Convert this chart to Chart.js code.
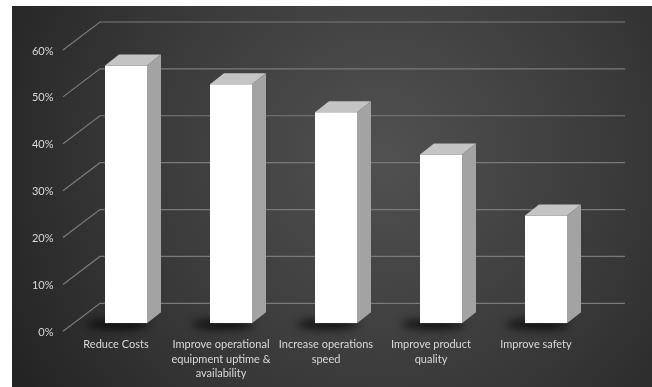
<!DOCTYPE html>
<html>
<head>
  <meta charset="UTF-8">
  <title>Goals</title>
  <script src="https://cdn.jsdelivr.net/npm/chart.js@4.4.0/dist/chart.umd.min.js"></script>
  <style>
    body { margin: 0; background: #fff; }
    .wrap { position: absolute; left: 12px; top: 6px; width: 640px; height: 381px; }
  </style>
</head>
<body>
  <div class="wrap"><canvas id="myChart"></canvas></div>

  <script>
    var categories = [
      ["Reduce Costs"],
      ["Improve operational", "equipment uptime &", "availability"],
      ["Increase operations", "speed"],
      ["Improve product", "quality"],
      ["Improve safety"]
    ];
    var values = [55, 51, 45, 36, 23];
    var yTicks = [0, 10, 20, 30, 40, 50, 60];

    // oblique 3d offsets, relative to the plane of the bar fronts
    var backDx = 26.5, backDy = -20;
    var frontDx = -10.5, frontDy = 8;
    var depthDx = 14, depthDy = -11;

    var bg = {
      id: "bg",
      beforeDraw(chart) {
        var ctx = chart.ctx;
        var g = ctx.createRadialGradient(370, 150, 10, 370, 150, 440);
        g.addColorStop(0, "#505050");
        g.addColorStop(0.55, "#393939");
        g.addColorStop(1, "#222222");
        ctx.save();
        ctx.fillStyle = g;
        ctx.fillRect(0, 0, chart.width, chart.height);
        ctx.restore();
      },
      beforeDatasetsDraw(chart) {
        var ctx = chart.ctx, a = chart.chartArea, y = chart.scales.y;
        ctx.save();
        ctx.strokeStyle = "#7a7a7a";
        ctx.lineWidth = 1.2;
        yTicks.forEach(function (v) {
          var py = y.getPixelForValue(v);
          ctx.beginPath();
          ctx.moveTo(a.left + frontDx, py + frontDy);
          ctx.lineTo(a.left + backDx, py + backDy);
          ctx.lineTo(a.right + backDx, py + backDy);
          ctx.stroke();
        });
        // bar shadows
        ctx.filter = "blur(4px)";
        ctx.fillStyle = "rgba(0,0,0,0.75)";
        chart.getDatasetMeta(0).data.forEach(function (b) {
          ctx.beginPath();
          ctx.ellipse(b.x - 8, b.base + 1, b.width * 0.75, 5, 0, 0, Math.PI * 2);
          ctx.fill();
        });
        ctx.restore();
      },
      afterDatasetsDraw(chart) {
        var ctx = chart.ctx;
        ctx.save();
        chart.getDatasetMeta(0).data.forEach(function (b) {
          var l = b.x - b.width / 2, r = b.x + b.width / 2, t = b.y, bt = b.base;
          // top face
          ctx.fillStyle = "#c4c4c4";
          ctx.beginPath();
          ctx.moveTo(l, t);
          ctx.lineTo(l + depthDx, t + depthDy);
          ctx.lineTo(r + depthDx, t + depthDy);
          ctx.lineTo(r, t);
          ctx.closePath();
          ctx.fill();
          // side face
          ctx.fillStyle = "#a3a3a3";
          ctx.beginPath();
          ctx.moveTo(r, t);
          ctx.lineTo(r + depthDx, t + depthDy);
          ctx.lineTo(r + depthDx, bt + depthDy);
          ctx.lineTo(r, bt);
          ctx.closePath();
          ctx.fill();
        });
        ctx.restore();
      }
    };

    new Chart("myChart", {
      type: "bar",
      data: {
        labels: categories,
        datasets: [{
          data: values,
          backgroundColor: "#ffffff",
          barPercentage: 0.4,
          categoryPercentage: 1.0
        }]
      },
      options: {
        responsive: true,
        maintainAspectRatio: false,
        animation: false,
        layout: { padding: { left: 0, right: 53.5, top: 36, bottom: 0 } },
        plugins: {
          legend: { display: false },
          tooltip: { enabled: false }
        },
        scales: {
          x: {
            grid: { display: false },
            border: { display: false },
            ticks: {
              color: "#d9d9d9",
              font: { family: "Lato", size: 11, lineHeight: 1.32 },
              maxRotation: 0,
              autoSkip: false,
              labelOffset: -10,
              padding: 6
            },
            afterFit: function (s) { s.height = 63.7; }
          },
          y: {
            min: 0,
            max: 60,
            grid: { display: false },
            border: { display: false },
            ticks: {
              stepSize: 10,
              color: "#d9d9d9",
              font: { family: "Lato", size: 11 },
              labelOffset: 9,
              padding: 12,
              callback: function (v) { return v + "%"; }
            },
            afterFit: function (s) { s.width = 61.5; }
          }
        }
      },
      plugins: [bg]
    });
  </script>
</body>
</html>
